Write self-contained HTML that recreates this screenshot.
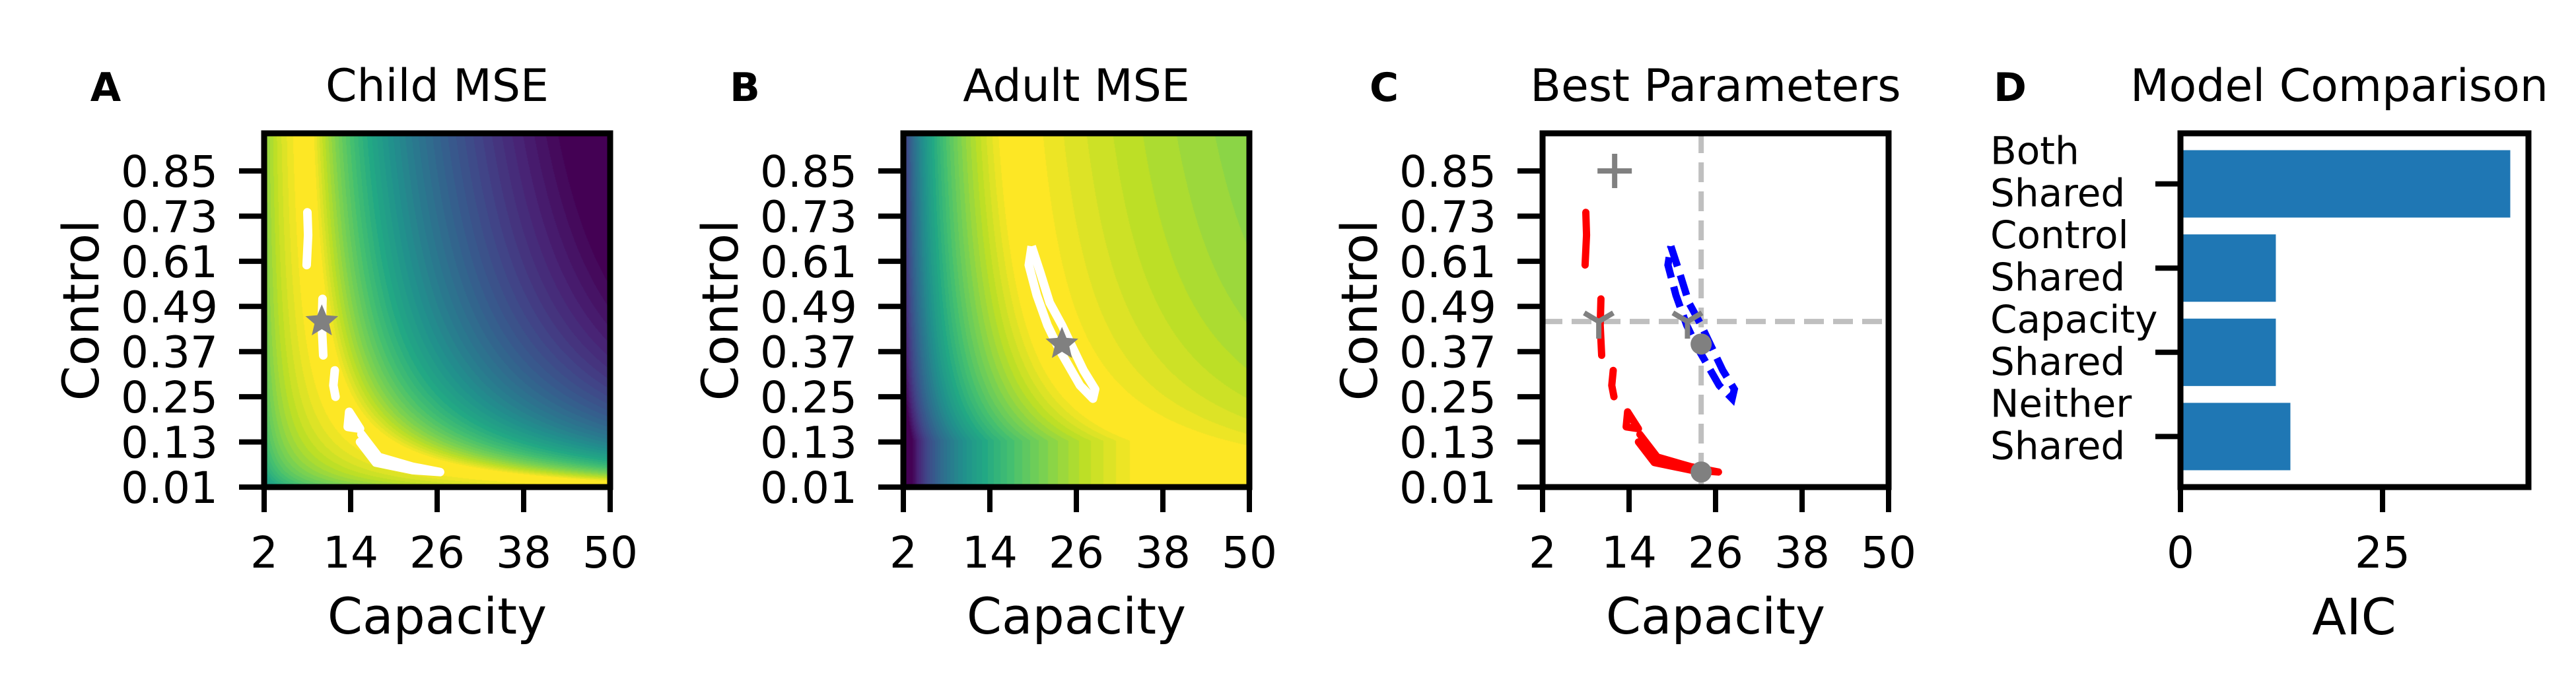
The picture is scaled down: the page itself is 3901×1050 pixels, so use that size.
<!DOCTYPE html>
<html><head><meta charset="utf-8">
<style>
html,body{margin:0;padding:0;background:#fff;}
#root{position:relative;width:3901px;height:1050px;overflow:hidden;background:#fff;}
canvas{position:absolute;}
svg{position:absolute;left:0;top:0;}
text{font-family:"DejaVu Sans","Liberation Sans",sans-serif;fill:#000;}
</style></head>
<body>
<div id="root">
<canvas id="cA" width="524" height="536" style="left:400px;top:202px"></canvas>
<canvas id="cB" width="524" height="536" style="left:1368px;top:202px"></canvas>
<svg id="svg" width="3901" height="1050"></svg>
</div>
<script>
// ---- data ----
const xTicks = [2, 14, 26, 38, 50];
const yTicks = [0.01, 0.13, 0.25, 0.37, 0.49, 0.61, 0.73, 0.85];
const yTickLabels = ["0.01","0.13","0.25","0.37","0.49","0.61","0.73","0.85"];
const childContour1 = [[8.0,0.74],[8.1,0.68],[7.9,0.60]];
const childContour2 = [[10.1,0.51],[10.0,0.44],[10.2,0.36]];
const childContour3 = [[11.8,0.32],[11.6,0.28],[11.9,0.25]];
const childContour4 = [[13.8,0.21],[15.3,0.165],[13.6,0.17],[13.8,0.21]];
const childContour5 = [[15.5,0.15],[17.9,0.09],[22.6,0.064],[26.4,0.05],[22.6,0.055],[17.5,0.075],[15.3,0.13]];
const adultContour = [[19.8,0.65],[21,0.58],[22.3,0.5],[24,0.44],[25.5,0.38],[27,0.32],[28.6,0.27],[28.3,0.245],[26.5,0.28],[25,0.33],[23.5,0.38],[22,0.44],[20.5,0.52],[19.4,0.6],[19.8,0.65]];
const childBest = [10, 0.45];
const adultBest = [24, 0.39];
const plusPt = [12, 0.85];
const triPts = [[9.8, 0.45], [22.1, 0.45]];
const circlePts = [[24, 0.39], [24, 0.05]];
const refX = 24, refY = 0.45;
const models = ["Both\nShared", "Control\nShared", "Capacity\nShared", "Neither\nShared"];
const aic = [40.8, 11.8, 11.8, 13.6];
const aicTicks = [0, 25];

// ---- geometry ----
const TOP = 202, BOT = 738, W = 524;
const lefts = [400, 1368, 2336];
function px(L, x){ return L + (x - 2) / 48 * W; }
function py(y){ return BOT - (y - 0.01) / 0.94 * (BOT - TOP); }
const NS = "http://www.w3.org/2000/svg";
const svg = document.getElementById('svg');
function mk(tag, attrs, parent){
  const e = document.createElementNS(NS, tag);
  for (const k in attrs) e.setAttribute(k, attrs[k]);
  (parent || svg).appendChild(e);
  return e;
}
function txt(x, y, s, size, anchor, weight){
  const t = mk('text', {x:x, y:y, 'font-size':size, 'text-anchor':anchor||'middle', 'font-weight':weight||'normal'});
  t.textContent = s;
  return t;
}

// ---- viridis ----
const vir = ["#440154","#482475","#414487","#355f8d","#2a788e","#21918c","#22a884","#44bf70","#7ad151","#bddf26","#fde725"].map(h=>[parseInt(h.slice(1,3),16),parseInt(h.slice(3,5),16),parseInt(h.slice(5,7),16)]);
function viridis(t){
  t = Math.max(0, Math.min(1, t));
  t = Math.round(t * 40) / 40;
  const f = t * 10, i = Math.min(9, Math.floor(f)), r = f - i;
  return vir[i].map((v, k) => Math.round(v + (vir[i+1][k] - v) * r));
}
function paint(id, fn){
  const c = document.getElementById(id), ctx = c.getContext('2d');
  const img = ctx.createImageData(524, 536);
  for (let j = 0; j < 536; j++){
    const y = 0.95 - j / 536 * 0.94;
    for (let i = 0; i < 524; i++){
      const x = 2 + i / 524 * 48;
      const col = viridis(fn(x, y));
      const o = (j * 524 + i) * 4;
      img.data[o] = col[0]; img.data[o+1] = col[1]; img.data[o+2] = col[2]; img.data[o+3] = 255;
    }
  }
  ctx.putImageData(img, 0, 0);
}
paint('cA', (x, y) => {
  const xv = 6 + 1.8 / (y + 0.02);
  const r = Math.log(x / xv);
  return r > 0 ? 1 - 0.62 * Math.max(0, r - 0.1) : 1 - 0.16 * Math.max(0, -r - 0.2);
});
paint('cB', (x, y) => {
  const xv = 14 + 4 / (y + 0.02);
  if (x < xv) {
    const r = Math.log(x / Math.min(xv, 40));
    return 1 - 0.42 * Math.max(0, -r - 0.15);
  }
  const r = Math.log(x / xv);
  return 1 - 0.2 * Math.max(0, r - 0.1);
});

// ---- panel scaffolding ----
const titles = ["Child MSE", "Adult MSE", "Best Parameters"];
const letters = ["A", "B", "C"];
const pnames = ["child", "adult", "best"];
lefts.forEach((L, p) => {
  const g = mk('g', {});
  
  
  const lt = txt(L - 240, 153, letters[p], 60, 'middle', 'bold');
  
  
  const tt = txt(L + W / 2, 153, titles[p], 68);
  
  
  xTicks.forEach(v => {
    const x = px(L, v);
    const tk = mk('line', {x1:x, x2:x, y1:BOT, y2:BOT+38, stroke:'#000', 'stroke-width':8}, g);
    
    
    const tl = txt(x, 860, String(v), 66);
    
    
  });
  yTicks.forEach((v, k) => {
    const y = py(v);
    const tk = mk('line', {x1:L-38, x2:L, y1:y, y2:y, stroke:'#000', 'stroke-width':8}, g);
    
    
    const tl = txt(L - 70, y + 24, yTickLabels[k], 66, 'end');
    
    
  });
  const xl = txt(L + W / 2, 960, "Capacity", 76);
  
  
  const yl = txt(0, 0, "Control", 76);
  yl.setAttribute('transform', `translate(${L-278},${(TOP+BOT)/2}) rotate(-90)`);
  yl.setAttribute('dy', '27');
  
  
});

function pathFrom(L, pts){ return pts.map((p, i) => (i ? 'L' : 'M') + px(L, p[0]).toFixed(1) + ',' + py(p[1]).toFixed(1)).join(' '); }
function star(cx, cy, R, name){
  let d = '';
  for (let k = 0; k < 10; k++){
    const a = -Math.PI / 2 + k * Math.PI / 5, r = k % 2 ? R * 0.45 : R;
    d += (k ? 'L' : 'M') + (cx + r * Math.cos(a)).toFixed(1) + ',' + (cy + r * Math.sin(a)).toFixed(1);
  }
  const s = mk('path', {d: d + 'Z', fill:'#808080'});
  
  
}

// Panel A
[childContour1, childContour2, childContour3, childContour4, childContour5].forEach(c => {
  const e = mk('path', {d:pathFrom(lefts[0], c), fill:'none', stroke:'#fff', 'stroke-width':13, 'stroke-linejoin':'round', 'stroke-linecap':'round'});
  
  
});
star(px(lefts[0], childBest[0]), py(childBest[1]), 26, 'child-best-star');
// Panel B
const bc = mk('path', {d:pathFrom(lefts[1], adultContour), fill:'none', stroke:'#fff', 'stroke-width':13, 'stroke-linejoin':'round'});


star(px(lefts[1], adultBest[0]), py(adultBest[1]), 26, 'adult-best-star');

// Panel C
const LC = lefts[2];
const vref = mk('line', {x1:px(LC, refX), x2:px(LC, refX), y1:TOP, y2:BOT, stroke:'#bfbfbf', 'stroke-width':8, 'stroke-dasharray':'30,14'});


const href = mk('line', {x1:LC, x2:LC+W, y1:py(refY), y2:py(refY), stroke:'#bfbfbf', 'stroke-width':8, 'stroke-dasharray':'30,14'});


[childContour1, childContour2, childContour3, childContour4, childContour5].forEach(c => {
  const e = mk('path', {d:pathFrom(LC, c), fill:'none', stroke:'#ff0000', 'stroke-width':11, 'stroke-linejoin':'round', 'stroke-linecap':'round'});
  
  
});
const ac = mk('path', {d:pathFrom(LC, adultContour), fill:'none', stroke:'#0000ff', 'stroke-width':11, 'stroke-dasharray':'32,14'});


{
  const x = px(LC, plusPt[0]), y = py(plusPt[1]);
  const pl = mk('path', {d:`M${x-26},${y}H${x+26}M${x},${y-26}V${y+26}`, stroke:'#808080', 'stroke-width':8});
  
  
}
triPts.forEach(p => {
  const x = px(LC, p[0]), y = py(p[1]);
  const t = mk('path', {d:`M${x},${y}V${y+26}M${x},${y}L${x-22},${y-13}M${x},${y}L${x+22},${y-13}`, stroke:'#808080', 'stroke-width':8, fill:'none'});
  
  
});
circlePts.forEach(p => {
  const c = mk('circle', {cx:px(LC, p[0]), cy:py(p[1]), r:16, fill:'#808080'});
  
  
});

// frames for A-C
lefts.forEach(L => {
  const f = mk('rect', {x:L, y:TOP, width:W, height:BOT-TOP, fill:'none', stroke:'#000', 'stroke-width':9});
  
  
});

// ---- Panel D ----
const LD = 3302, RD = 3829, xmaxD = 43.05;
function dx(v){ return LD + v / xmaxD * (RD - LD); }
const slot = (BOT - TOP) / 4.2;
function dy(i){ return TOP + (0.6 + i) * slot; }
const dl = txt(3044, 153, "D", 60, 'middle', 'bold');


const dt = txt(3226, 153, "Model Comparison", 68, 'start');


aic.forEach((v, i) => {
  const b = mk('rect', {x:LD, y:dy(i) - 0.4 * slot, width:dx(v) - LD, height:0.8 * slot, fill:'#1f77b4'});
  
  
  const tk = mk('line', {x1:LD-38, x2:LD, y1:dy(i), y2:dy(i), stroke:'#000', 'stroke-width':8});
  
  
  const lines = models[i].split('\n');
  lines.forEach((s, k) => {
    const t = txt(3014, dy(i) - 30 + k * 64, s, 58, 'start');
    
    
  });
});
aicTicks.forEach(v => {
  const tk = mk('line', {x1:dx(v), x2:dx(v), y1:BOT, y2:BOT+38, stroke:'#000', 'stroke-width':8});
  
  
  const tl = txt(dx(v), 860, String(v), 66);
  
  
});
const al = txt(3565, 961, "AIC", 76);


const fd = mk('rect', {x:LD, y:TOP, width:RD-LD, height:BOT-TOP, fill:'none', stroke:'#000', 'stroke-width':9});


</script>
</body></html>
